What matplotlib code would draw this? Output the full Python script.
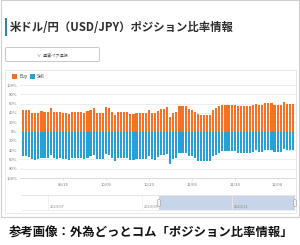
import matplotlib
matplotlib.use("Agg")
import matplotlib.pyplot as plt
from matplotlib.patches import Rectangle, FancyBboxPatch
import pandas as pd

plt.rcParams['font.family'] = ['Noto Sans CJK JP', 'DejaVu Sans']

# ---- data ----
start_date = "2023-09-12"
buy = [47, 47, 46, 40, 39, 40, 44, 42, 42, 50,
       42, 41, 42, 40, 40, 38, 43, 42, 42, 42,
       40, 44, 47, 50, 40, 40, 40, 52, 50, 43,
       36, 42, 42, 42, 42, 38, 38, 40, 40, 40,
       40, 47, 40, 39, 45, 49, 49, 52, 31, 40,
       43, 54, 54, 54, 48, 47, 43, 37, 36, 36,
       36, 36, 47, 50, 54, 57, 57, 57, 57, 57,
       54, 54, 54, 54, 54, 56, 60, 56, 56, 61,
       61, 61, 56, 56, 56, 63, 60, 60, 60]
sell = [53, 53, 54, 60, 61, 60, 56, 58, 58, 50,
        58, 59, 58, 60, 60, 62, 57, 58, 58, 58,
        60, 56, 53, 50, 60, 60, 60, 48, 50, 57,
        64, 58, 58, 58, 58, 62, 62, 60, 60, 60,
        60, 53, 60, 61, 55, 51, 51, 48, 69, 60,
        57, 46, 46, 46, 52, 53, 57, 63, 64, 64,
        64, 64, 53, 50, 46, 43, 43, 43, 43, 43,
        46, 46, 46, 46, 46, 44, 40, 44, 44, 39,
        39, 39, 44, 44, 44, 37, 40, 40, 40]
x_tick_dates = ["2023-09-25", "2023-10-09", "2023-10-23",
                "2023-11-06", "2023-11-20", "2023-12-04"]
y_ticks = [-100, -80, -60, -40, -20, 0, 20, 40, 60, 80, 100]
nav_labels = ["2023/07", "2023/09", "2023/11"]
title = "米ドル/円（USD/JPY）ポジション比率情報"
caption = "参考画像：外為どっとコム「ポジション比率情報」"
legend_names = ["Buy", "Sell"]

BUY_C = "#f07424"
SELL_C = "#27a0d4"

W, H = 300, 245
fig = plt.figure(figsize=(W / 100, H / 100), dpi=100)
fig.patch.set_facecolor("white")

# overlay axes in pixel coordinates
ov = fig.add_axes([0, 0, 1, 1])
ov.set_xlim(0, W)
ov.set_ylim(H, 0)
ov.axis("off")

# card borders
ov.add_patch(Rectangle((0.5, 0.5), 298, 216, fill=False, ec="#cfcfcf", lw=0.8))
ov.add_patch(Rectangle((5, 70), 291, 143, fill=False, ec="#e4e4e4", lw=0.6))

# title
ov.add_patch(Rectangle((5, 18.5), 2.2, 17.5, color="#2b8a9e", lw=0))
ov.text(10, 27.5, title, fontsize=8.2, fontweight="bold", color="#2e2e2e",
        va="center", ha="left")

# dropdown box
ov.add_patch(FancyBboxPatch((5.5, 47.5), 94, 14, boxstyle="round,pad=0,rounding_size=1.5",
                            fill=False, ec="#c8c8c8", lw=0.7))
ov.text(52, 55, "∨  通貨ペア選択", fontsize=3.0, color="#555555", ha="center", va="center")

# legend
ov.add_patch(Rectangle((12, 74), 5, 5, color=BUY_C, lw=0))
ov.text(19, 76.8, legend_names[0], fontsize=3.2, color="#333333", va="center", ha="left")
ov.add_patch(Rectangle((30, 74), 5, 5, color=SELL_C, lw=0))
ov.text(37, 76.8, legend_names[1], fontsize=3.2, color="#333333", va="center", ha="left")

# navigator
ov.plot([22, 295], [195, 195], color="#e0e0e0", lw=0.6)
ov.plot([22, 295], [210, 210], color="#e6e6e6", lw=0.5)
for xv in [48, 142, 232]:
    ov.plot([xv, xv], [196, 210], color="#ececec", lw=0.5)
ov.add_patch(Rectangle((159, 196), 136, 14, color="#c8d4e7", lw=0))
for lx, lab in zip([50, 144, 234], nav_labels):
    ov.text(lx, 206.5, lab, fontsize=2.8, color="#888888", ha="left", va="center")
for hx in [159, 295]:
    ov.add_patch(FancyBboxPatch((hx - 1.3, 199.5), 2.6, 7, boxstyle="round,pad=0,rounding_size=0.8",
                                fc="#f2f2f2", ec="#999999", lw=0.4))

# caption
ov.text(151, 233, caption, fontsize=8.9, fontweight="bold", color="#111111",
        ha="center", va="center")

# main chart
n = len(buy)
idx = list(range(n))
dates = pd.date_range(start_date, periods=n, freq="D")
ax = fig.add_axes([20 / W, 1 - 178 / H, 276 / W, 93 / H])
ax.patch.set_alpha(0)
ax.bar(idx, buy, width=0.7, color=BUY_C, lw=0, zorder=3)
ax.bar(idx, [-s for s in sell], width=0.7, color=SELL_C, lw=0, zorder=3)
ax.set_xlim(-1, n)
ax.set_ylim(-100, 100)
ax.set_yticks(y_ticks)
ax.set_yticklabels([f"{abs(v)}%" for v in y_ticks])
ax.yaxis.grid(True, color="#e6e6e6", lw=0.5, zorder=0)
tick_pos = [int((pd.Timestamp(d) - dates[0]).days) for d in x_tick_dates]
ax.set_xticks(tick_pos)
ax.set_xticklabels([pd.Timestamp(d).strftime("%m/%d") for d in x_tick_dates])
for s in ["top", "right", "left"]:
    ax.spines[s].set_visible(False)
ax.spines["bottom"].set_color("#ccd6eb")
ax.spines["bottom"].set_linewidth(0.6)
ax.tick_params(axis="y", length=0, labelsize=3.0, labelcolor="#777777", pad=2)
ax.tick_params(axis="x", length=1.5, width=0.4, color="#ccd6eb", labelsize=3.0,
               labelcolor="#777777", pad=2.0)

fig.savefig("out.png", dpi=100)
